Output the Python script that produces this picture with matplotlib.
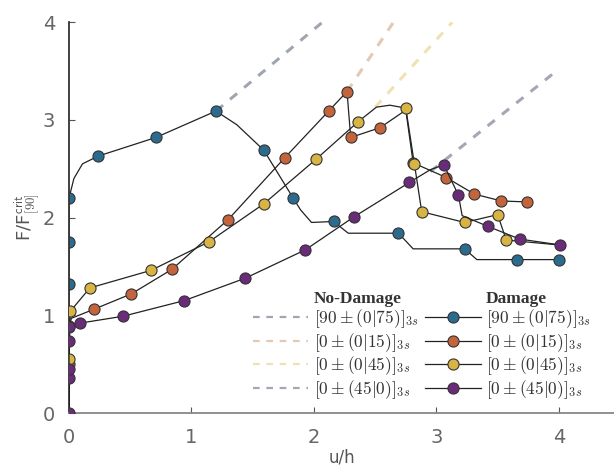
import matplotlib
matplotlib.use("Agg")
import matplotlib.pyplot as plt
from matplotlib.lines import Line2D
import numpy as np

plt.rcParams["mathtext.fontset"] = "cm"

# damaged curves: line vertices and indices of points that carry a marker
blue_x = [0, 0, 0, 0, 0.04, 0.11, 0.24, 0.71, 1.2, 1.37, 1.59, 1.83, 1.89, 1.98, 2.16, 2.28, 2.69, 2.81, 3.23, 3.33, 3.66, 4.0]
blue_y = [0, 1.32, 1.75, 2.2, 2.4, 2.55, 2.63, 2.82, 3.09, 2.95, 2.69, 2.2, 2.08, 1.95, 1.96, 1.84, 1.84, 1.68, 1.68, 1.57, 1.57, 1.57]
blue_mk = [1, 2, 3, 6, 7, 8, 10, 11, 14, 16, 18, 20, 21]

orange_x = [0, 0, 0, 0.02, 0.2, 0.51, 0.84, 1.3, 1.76, 2.12, 2.27, 2.3, 2.54, 2.75, 2.81, 3.08, 3.31, 3.53, 3.74]
orange_y = [0, 0.5, 0.89, 0.97, 1.06, 1.22, 1.47, 1.98, 2.61, 3.09, 3.29, 2.82, 2.92, 3.1, 2.56, 2.41, 2.24, 2.17, 2.16]
orange_mk = [1, 2, 4, 5, 6, 7, 8, 9, 10, 11, 12, 14, 15, 16, 17, 18]

yellow_x = [0, 0, 0.01, 0.17, 0.67, 1.14, 1.59, 2.02, 2.36, 2.51, 2.62, 2.75, 2.82, 2.88, 3.23, 3.5, 3.57, 4.0]
yellow_y = [0, 0.55, 1.04, 1.28, 1.46, 1.75, 2.14, 2.6, 2.98, 3.13, 3.15, 3.12, 2.55, 2.06, 1.95, 2.03, 1.77, 1.72]
yellow_mk = [1, 2, 3, 4, 5, 6, 7, 8, 11, 12, 13, 14, 15, 16]

purple_x = [0, 0, 0, 0, 0, 0.09, 0.44, 0.94, 1.44, 1.93, 2.33, 2.78, 2.95, 3.06, 3.18, 3.21, 3.42, 3.68, 4.01]
purple_y = [0, 0.36, 0.45, 0.74, 0.88, 0.92, 0.99, 1.15, 1.38, 1.67, 2.01, 2.36, 2.49, 2.54, 2.23, 2.02, 1.91, 1.78, 1.72]
purple_mk = [0, 1, 2, 3, 4, 5, 6, 7, 8, 9, 10, 11, 13, 14, 16, 17, 18]

# undamaged (linear) continuations
nd_blue_x, nd_blue_y = [1.2, 2.07], [3.09, 4.0]
nd_orange_x, nd_orange_y = [2.27, 2.65], [3.29, 4.0]
nd_yellow_x, nd_yellow_y = [2.5, 3.13], [3.13, 4.0]
nd_purple_x, nd_purple_y = [2.95, 3.98], [2.47, 3.5]

labels = [r"$[90\pm(0|75)]_{3s}$", r"$[0\pm(0|15)]_{3s}$",
          r"$[0\pm(0|45)]_{3s}$", r"$[0\pm(45|0)]_{3s}$"]
colors = ["#2c6b8e", "#c4643c", "#d8b444", "#6a2b78"]
dash_colors = ["#a0a6b0", "#e2c9b4", "#f0e2b0", "#aaa4b6"]

fig = plt.figure(figsize=(6.14, 4.67), dpi=100)
ax = fig.add_axes([0.1124, 0.1156, 0.8876, 0.837])

nd = [(nd_blue_x, nd_blue_y), (nd_orange_x, nd_orange_y),
      (nd_yellow_x, nd_yellow_y), (nd_purple_x, nd_purple_y)]
for (x, y), c in zip(nd, dash_colors):
    ax.plot(x, y, ls=(0, (3, 3)), color=c, lw=2.2, zorder=1)

series = [(blue_x, blue_y, blue_mk), (orange_x, orange_y, orange_mk),
          (yellow_x, yellow_y, yellow_mk), (purple_x, purple_y, purple_mk)]
for i, ((x, y, mk), c) in enumerate(zip(series, colors)):
    x = np.array(x)
    y = np.array(y)
    ax.plot(x, y, color="#222222", lw=0.9, zorder=2 + i)
    ax.plot(x[mk], y[mk], ls="none", marker="o", ms=8, mfc=c,
            mec="#333333", mew=0.8, zorder=2 + i)

ax.set_xlim(0, 4.45)
ax.set_ylim(0, 4)
ax.set_xticks([0, 1, 2, 3, 4])
ax.set_yticks([0, 1, 2, 3, 4])
ax.spines["top"].set_visible(False)
ax.spines["right"].set_visible(False)
ax.spines["left"].set_color("#333333")
ax.spines["bottom"].set_color("#888888")
ax.spines["left"].set_linewidth(1.3)
ax.spines["bottom"].set_linewidth(1.3)
ax.tick_params(direction="in", length=4, labelsize=14, labelcolor="#666666",
               color="#555555")
ax.tick_params(axis="x", pad=11)
ax.tick_params(axis="y", pad=10)
ax.set_xlabel("u/h", fontsize=12, color="#555555", labelpad=1)
ax.set_ylabel(r"F/F$^{\mathsf{crit}}_{\mathsf{[90]}}$", fontsize=13,
              color="#555555", labelpad=0)

blank = Line2D([], [], ls="none")
handles = [blank]
handles += [Line2D([], [], ls=(0, (3, 3)), color=c, lw=1.6) for c in dash_colors]
handles += [blank]
handles += [Line2D([], [], color="#222222", lw=0.9, marker="o", ms=8, mfc=c,
                   mec="#333333", mew=0.8) for c in colors]
leg_labels = ["No-Damage"] + labels + ["Damage"] + labels
leg = ax.legend(handles, leg_labels, ncol=2, loc="lower left",
                bbox_to_anchor=(0.315, 0.0), frameon=False,
                handlelength=3.2, columnspacing=0.4, handletextpad=0.3,
                labelspacing=0.05, borderpad=0.2,
                prop={"family": "Liberation Serif", "size": 12.5})
texts = leg.get_texts()
for t in texts:
    t.set_color("#333333")
for k in (0, 5):
    texts[k].set_fontweight("bold")
    texts[k].set_fontsize(12.5)

fig.savefig("out.png", dpi=100)
